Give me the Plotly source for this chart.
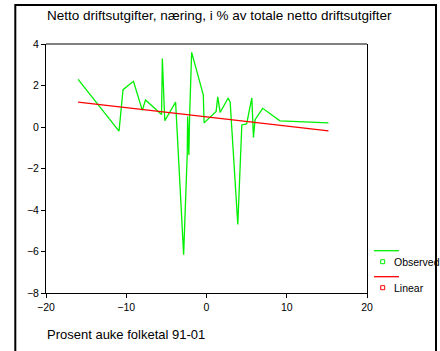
import plotly.graph_objects as go

# Observed series (x = Prosent auke folketal 91-01, y = netto driftsutgifter næring %)
obs_x = [-16.0, -10.9, -10.4, -9.1, -8.0, -7.6, -5.6, -5.5, -5.2, -3.85,
         -2.85, -2.4, -2.35, -2.2, -2.1, -1.85, -0.4, -0.3, 1.2, 1.4,
         1.7, 2.7, 2.95, 3.9, 4.4, 5.0, 5.65, 5.85, 6.05, 7.0, 9.15, 15.2]
obs_y = [2.3, -0.2, 1.8, 2.2, 0.8, 1.3, 0.6, 3.3, 0.3, 1.2,
         -6.15, -1.3, 0.5, -1.35, 0.6, 3.6, 1.55, 0.2, 0.75, 1.45,
         0.7, 1.4, 1.2, -4.7, 0.1, 0.15, 1.4, -0.5, 0.35, 0.9, 0.3, 0.2]

# Linear fit endpoints
lin_x = [-16.0, 15.2]
lin_y = [1.2, -0.19]

x_ticks = [-20, -10, 0, 10, 20]
y_ticks = [-8, -6, -4, -2, 0, 2, 4]

title_text = "Netto driftsutgifter, næring, i % av totale netto driftsutgifter"
xtitle_text = "Prosent auke folketal 91-01"
legend_names = ["Observed", "Linear"]

GREEN = "#00f000"
RED = "#ff0000"
FONT = "Liberation Sans, Arial, sans-serif"

W, H = 440, 351
L, R, T, B = 46, 367, 44, 293  # plot area in pixels


def px(xp):
    return (xp - L) / (R - L)


def py(yp):
    return (B - yp) / (B - T)


fig = go.Figure()
fig.add_trace(go.Scatter(x=obs_x, y=obs_y, mode="lines",
                         line=dict(color=GREEN, width=1.3), name=legend_names[0]))
fig.add_trace(go.Scatter(x=lin_x, y=lin_y, mode="lines",
                         line=dict(color=RED, width=1.3), name=legend_names[1]))

shapes = []
# outer frame
shapes.append(dict(type="rect", xref="paper", yref="paper",
                   x0=px(15.3), x1=px(436), y0=py(380), y1=py(5),
                   line=dict(color="black", width=2), fillcolor="rgba(0,0,0,0)"))
# top gray border of plot area
shapes.append(dict(type="line", xref="paper", yref="paper",
                   x0=0, x1=1, y0=py(44), y1=py(44),
                   line=dict(color="#808080", width=2)))
# legend graphics
for i, col in enumerate([GREEN, RED]):
    ly = 250.7 + i * 26
    shapes.append(dict(type="line", xref="paper", yref="paper",
                       x0=px(374), x1=px(399), y0=py(ly), y1=py(ly),
                       line=dict(color=col, width=1.3)))
    my = ly + 11
    shapes.append(dict(type="rect", xref="paper", yref="paper",
                       x0=px(380.7), x1=px(384.7), y0=py(my - 2), y1=py(my + 2),
                       line=dict(color=col, width=1), fillcolor="white"))

annotations = [
    dict(text=title_text, xref="paper", yref="paper", x=px(45), y=py(15.5),
         xanchor="left", yanchor="middle", showarrow=False,
         font=dict(family=FONT, size=13.5, color="black")),
    dict(text=xtitle_text, xref="paper", yref="paper", x=px(45), y=py(335),
         xanchor="left", yanchor="middle", showarrow=False,
         font=dict(family=FONT, size=13, color="black")),
]
for i, name in enumerate(legend_names):
    annotations.append(dict(text=name, xref="paper", yref="paper",
                            x=px(392), y=py(261.7 + i * 26),
                            xanchor="left", yanchor="middle", showarrow=False,
                            font=dict(family=FONT, size=10.5, color="black")))

fig.update_layout(
    width=W, height=H,
    margin=dict(l=L, r=W - R, t=T, b=H - B, pad=0),
    paper_bgcolor="white", plot_bgcolor="white",
    showlegend=False,
    font=dict(family=FONT, size=10.5, color="black"),
    shapes=shapes, annotations=annotations,
    xaxis=dict(range=[-20, 20], tickvals=x_ticks, ticks="outside", ticklen=4,
               tickcolor="black", showline=True, linecolor="black", linewidth=1,
               showgrid=False, zeroline=False, fixedrange=True),
    yaxis=dict(range=[-8, 4], tickvals=y_ticks, ticks="outside", ticklen=4,
               tickcolor="black", showline=True, linecolor="black", linewidth=1,
               mirror=True, showgrid=False, zeroline=False, fixedrange=True),
)

fig.write_html("out.html", config={"displayModeBar": False},
               post_script="document.body.style.margin='0';document.body.style.overflow='hidden';")
